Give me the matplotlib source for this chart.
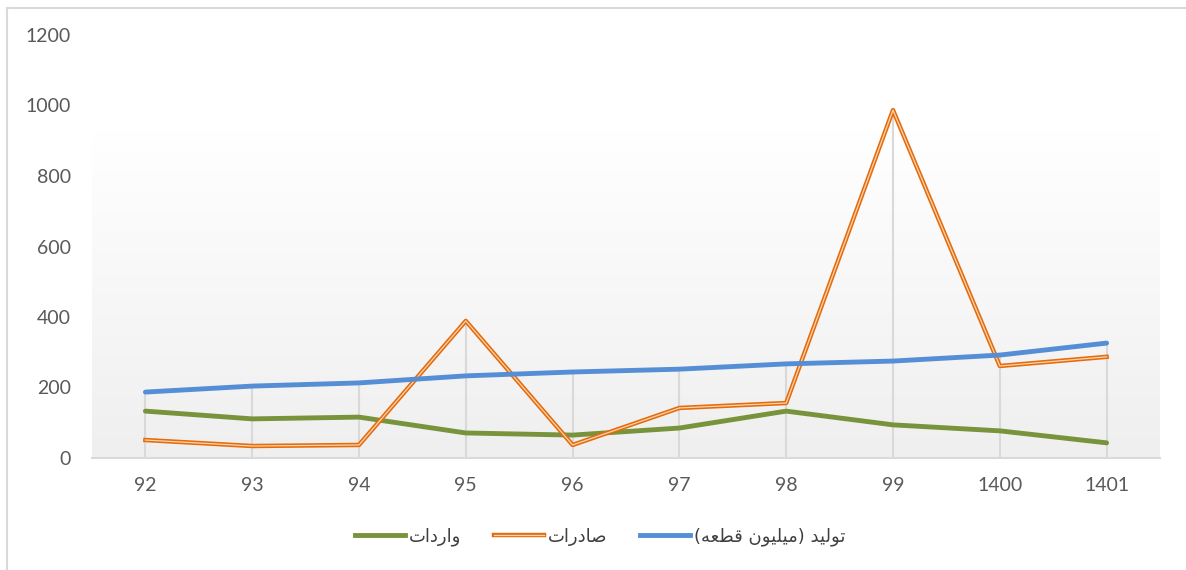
import numpy as np
import matplotlib
matplotlib.use('Agg')
from matplotlib import pyplot as plt
from matplotlib.lines import Line2D

# data
years = ['92', '93', '94', '95', '96', '97', '98', '99', '1400', '1401']
production = [187, 204, 213, 233, 244, 252, 267, 275, 292, 326]   # تولید (میلیون قطعه)
exports = [51, 34, 37, 389, 37, 142, 156, 987, 261, 287]          # صادرات
imports = [133, 111, 116, 71, 65, 85, 133, 94, 77, 43]             # واردات
y_ticks = [0, 200, 400, 600, 800, 1000, 1200]

label_prod = 'تولید (میلیون قطعه)'
label_exp = 'صادرات'
label_imp = 'واردات'

# matplotlib has no arabic shaping, so pick presentation forms by hand
# (isolated, final, initial, medial); right-joining letters only have 2
FORMS = {
    'ا': ('\uFE8D', '\uFE8E'), 'د': ('\uFEA9', '\uFEAA'),
    'ر': ('\uFEAD', '\uFEAE'), 'و': ('\uFEED', '\uFEEE'),
    'ت': ('\uFE95', '\uFE96', '\uFE97', '\uFE98'),
    'ص': ('\uFEB9', '\uFEBA', '\uFEBB', '\uFEBC'),
    'ل': ('\uFEDD', '\uFEDE', '\uFEDF', '\uFEE0'),
    'ی': ('\uFBFC', '\uFBFD', '\uFBFE', '\uFBFF'),
    'م': ('\uFEE1', '\uFEE2', '\uFEE3', '\uFEE4'),
    'ن': ('\uFEE5', '\uFEE6', '\uFEE7', '\uFEE8'),
    'ق': ('\uFED5', '\uFED6', '\uFED7', '\uFED8'),
    'ط': ('\uFEC1', '\uFEC2', '\uFEC3', '\uFEC4'),
    'ع': ('\uFEC9', '\uFECA', '\uFECB', '\uFECC'),
    'ه': ('\uFEE9', '\uFEEA', '\uFEEB', '\uFEEC'),
}


def shape(s):
    out = []
    for i, c in enumerate(s):
        if c not in FORMS:
            out.append(c)
            continue
        prev = s[i - 1] if i > 0 else ''
        nxt = s[i + 1] if i + 1 < len(s) else ''
        join_prev = prev in FORMS and len(FORMS[prev]) == 4
        join_next = nxt in FORMS and len(FORMS[c]) == 4
        f = FORMS[c]
        if join_prev and join_next:
            out.append(f[3])
        elif join_prev:
            out.append(f[1])
        elif join_next:
            out.append(f[2])
        else:
            out.append(f[0])
    vis = ''.join(reversed(out))
    return vis.translate(str.maketrans('()', ')('))


plt.rcParams['font.family'] = ['Lato', 'DejaVu Sans']

fig = plt.figure(figsize=(11.86, 5.70), dpi=100)
ax = fig.add_axes([92 / 1186, 1 - 458 / 570, (1160 - 92) / 1186, (458 - 35) / 570])

x = np.arange(len(years))

# gradient panel behind the lines
grad = np.linspace(1.0, 0.0, 256).reshape(-1, 1)
ax.imshow(grad, cmap=matplotlib.colors.LinearSegmentedColormap.from_list(
    'g', ['#efefef', '#ffffff']), extent=[-0.5, 9.5, 0, 930],
    aspect='auto', zorder=0, vmin=0, vmax=1)

# drop lines
tops = np.max([production, exports, imports], axis=0)
ax.vlines(x, 0, tops, color='#d9d9d9', lw=1.5, zorder=1)

ax.plot(x, imports, color='#77933c', lw=3.5, solid_capstyle='round', zorder=3)
ax.plot(x, exports, color='#e46c0a', lw=3.2, zorder=4)
ax.plot(x, exports, color='#fbd4b4', lw=0.9, zorder=5)
ax.plot(x, production, color='#558ed5', lw=3.5, solid_capstyle='round', zorder=6)

ax.set_xlim(-0.5, 9.5)
ax.set_ylim(0, 1200)
ax.set_xticks(x)
ax.set_xticklabels(years)
ax.set_yticks(y_ticks)
ax.tick_params(axis='both', length=0, labelsize=14, colors='#595959')
ax.tick_params(axis='y', pad=15)
ax.tick_params(axis='x', pad=14)
for s in ['top', 'right', 'left']:
    ax.spines[s].set_visible(False)
ax.spines['bottom'].set_color('#d9d9d9')
ax.spines['bottom'].set_linewidth(1.5)
ax.patch.set_visible(False)

handles = [
    Line2D([], [], color='#77933c', lw=3.5),
    (Line2D([], [], color='#e46c0a', lw=3.2), Line2D([], [], color='#fbd4b4', lw=0.9)),
    Line2D([], [], color='#558ed5', lw=3.5),
]
labels = [shape(label_imp), shape(label_exp), shape(label_prod)]
leg = fig.legend(handles, labels, loc='center', bbox_to_anchor=(600 / 1186, 1 - 537 / 570),
                 ncol=3, frameon=False, handlelength=2.8, handletextpad=0.2,
                 columnspacing=1.8, prop={'family': 'DejaVu Sans', 'size': 13})
for t in leg.get_texts():
    t.set_color('#404040')

# outer frame (only left and top are visible in the original)
fig.add_artist(Line2D([7 / 1186, 7 / 1186], [0, 1 - 8 / 570], color='#d9d9d9', lw=1.5))
fig.add_artist(Line2D([7 / 1186, 1], [1 - 8 / 570, 1 - 8 / 570], color='#d9d9d9', lw=1.5))

fig.savefig('out.png', dpi=100)
